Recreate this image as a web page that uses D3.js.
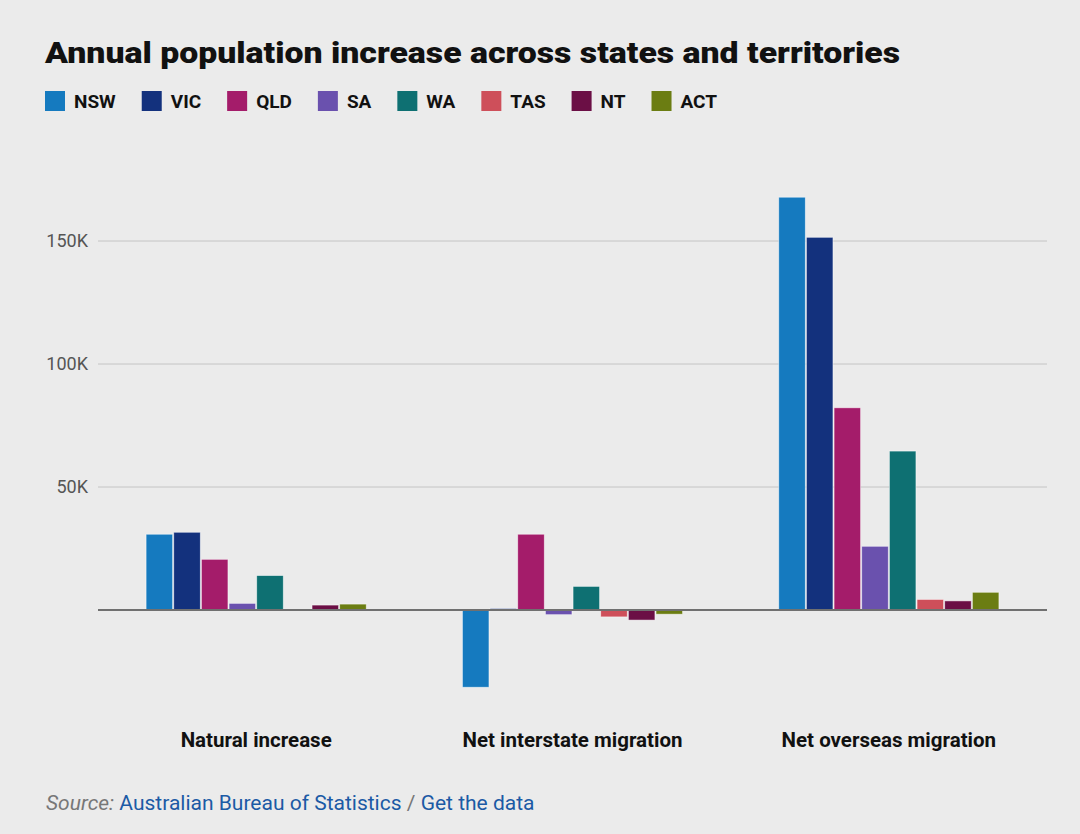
<!DOCTYPE html>
<html>
<head>
<meta charset="utf-8">
<script src="https://cdn.jsdelivr.net/npm/d3@7"></script>
<style>
  html, body { margin: 0; padding: 0; background: #ebebeb; }
  svg { display: block; }
</style>
</head>
<body>
<svg id="chart" width="1080" height="834"></svg>
<script>
const categories = ["Natural increase", "Net interstate migration", "Net overseas migration"];
const states = ["NSW", "VIC", "QLD", "SA", "WA", "TAS", "NT", "ACT"];
const colors = ["#157abf", "#13317d", "#a41c6a", "#6a51ae", "#0e7072", "#ce4f5a", "#6b0f45", "#6b7d12"];
const naturalIncrease = [30800, 31600, 20600, 2700, 14000, 0, 2000, 2400];
const netInterstate = [-31400, 600, 30800, -1900, 9600, -2800, -4100, -1700];
const netOverseas = [167800, 151500, 82200, 25900, 64600, 4300, 3700, 7200];
const seriesByCategory = [naturalIncrease, netInterstate, netOverseas];
const yTicks = [50000, 100000, 150000];
const yTickLabels = ["50K", "100K", "150K"];

const svg = d3.select("#chart");
const W = 1080, H = 834;
svg.append("rect").attr("width", W).attr("height", H).attr("fill", "#ebebeb");

// Title
svg.append("text")
  .attr("x", 45).attr("y", 63)
  .attr("font-family", "Roboto, sans-serif")
  .attr("font-weight", 900)
  .attr("font-size", 30)
  .attr("fill", "#111")
  .attr("textLength", 855)
  .attr("lengthAdjust", "spacingAndGlyphs")
  .text("Annual population increase across states and territories");

// Legend
const legend = svg.append("g");
let lx = 45;
states.forEach((s, i) => {
  legend.append("rect").attr("x", lx).attr("y", 91).attr("width", 20).attr("height", 20).attr("fill", colors[i]);
  const t = legend.append("text")
    .attr("x", lx + 29).attr("y", 108)
    .attr("font-family", "Roboto, sans-serif")
    .attr("font-weight", 700)
    .attr("font-size", 19)
    .attr("fill", "#111")
    .text(s);
  const w = t.node().getComputedTextLength();
  lx = lx + 29 + w + 26;
});

// Scales
const left = 98, right = 1047;
const x0 = d3.scaleBand().domain(categories).range([left, right]).paddingInner(0.304).paddingOuter(0.152);
const x1 = d3.scaleBand().domain(states).range([0, x0.bandwidth()]).paddingInner(0.04);
const y = d3.scaleLinear().domain([-35000, 170000]).range([610 + 35 * 2.46, 610 - 170 * 2.46]);

// Grid
const grid = svg.append("g");
yTicks.forEach((t, i) => {
  grid.append("line")
    .attr("x1", left).attr("x2", right)
    .attr("y1", y(t)).attr("y2", y(t))
    .attr("stroke", "#c4c4c4").attr("stroke-width", 1);
  grid.append("text")
    .attr("x", 88).attr("y", y(t) + 6)
    .attr("text-anchor", "end")
    .attr("font-family", "Roboto, sans-serif")
    .attr("font-weight", 400)
    .attr("font-size", 18)
    .attr("fill", "#555")
    .text(yTickLabels[i]);
});

// Bars
const groups = svg.append("g").selectAll("g")
  .data(categories)
  .join("g")
  .attr("transform", d => `translate(${x0(d)},0)`);

groups.selectAll("rect")
  .data((d, ci) => states.map((s, si) => ({ s, v: seriesByCategory[ci][si], c: colors[si] })))
  .join("rect")
  .attr("x", d => x1(d.s))
  .attr("width", x1.bandwidth())
  .attr("y", d => y(Math.max(0, d.v)))
  .attr("height", d => Math.abs(y(d.v) - y(0)))
  .attr("fill", d => d.c)
  .attr("stroke", "rgba(255,255,255,0.6)")
  .attr("stroke-width", 0.8);

// Zero line
svg.append("line")
  .attr("x1", left).attr("x2", right)
  .attr("y1", y(0)).attr("y2", y(0))
  .attr("stroke", "#707070").attr("stroke-width", 2);

// Category labels
svg.append("g").selectAll("text")
  .data(categories)
  .join("text")
  .attr("x", d => x0(d) + x0.bandwidth() / 2)
  .attr("y", 747)
  .attr("text-anchor", "middle")
  .attr("font-family", "Roboto, sans-serif")
  .attr("font-weight", 700)
  .attr("font-size", 20.5)
  .attr("fill", "#111")
  .text(d => d);

// Source
const src = svg.append("text")
  .attr("x", 46).attr("y", 810)
  .attr("font-family", "Roboto, sans-serif")
  .attr("font-size", 21)
  .attr("fill", "#777");
src.append("tspan").attr("font-style", "italic").text("Source: ");
src.append("tspan").attr("fill", "#1b5aa5").text("Australian Bureau of Statistics");
src.append("tspan").text(" / ");
src.append("tspan").attr("fill", "#1b5aa5").text("Get the data");
</script>
</body>
</html>
